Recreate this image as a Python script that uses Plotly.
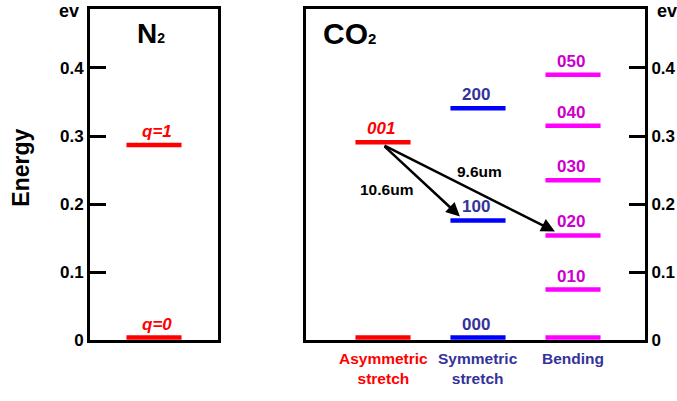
import plotly.graph_objects as go

# ---- data -------------------------------------------------------------
n2_labels = ["q=0", "q=1"]
n2_energy = [0.004, 0.287]

modes = ["Asymmetric<br>stretch", "Symmetric<br>stretch", "Bending"]

asym_labels = ["", "001"]
asym_energy = [0.004, 0.291]

sym_labels = ["000", "100", "200"]
sym_energy = [0.004, 0.176, 0.341]

bend_labels = ["", "010", "020", "030", "040", "050"]
bend_energy = [0.004, 0.0745, 0.154, 0.235, 0.315, 0.390]

# laser transitions: (upper level, lower level, wavelength)
transitions = [("001", "100", "10.6um"), ("001", "020", "9.6um")]

energy_ticks = [0, 0.1, 0.2, 0.3, 0.4]
energy_ticktext = ["0", "0.1", "0.2", "0.3", "0.4"]

# ---- styling ----------------------------------------------------------
W, H = 677, 401
FONT = "Liberation Sans, Arial, sans-serif"
RED, BLUE, MAG = "#ff0000", "#0000ff", "#ff00ff"
BLUE_TXT, MAG_TXT = "#333399", "#cc00cc"
HALF = 0.29          # half width of an energy-level bar (x units)
BAR_W = 4.5


def xp(px):
    return px / W


def yp(py):
    return 1 - py / H


fig = go.Figure()


def add_levels(xref, yref, col, energies, color):
    xs, ys = [], []
    for e in energies:
        xs += [col - HALF, col + HALF, None]
        ys += [e, e, None]
    fig.add_trace(go.Scatter(x=xs, y=ys, mode="lines", xaxis=xref, yaxis=yref,
                             line=dict(color=color, width=BAR_W),
                             hoverinfo="skip", showlegend=False))


def add_level_labels(xref, yref, col, labels, energies, color, italic=False, xshift=0):
    for lab, e in zip(labels, energies):
        if not lab:
            continue
        txt = f"<b>{lab}</b>"
        if italic:
            txt = f"<i>{txt}</i>"
        fig.add_annotation(x=col, y=e, xref=xref, yref=yref, text=txt,
                           showarrow=False, xanchor="center", yanchor="bottom",
                           yshift=2, xshift=xshift,
                           font=dict(family=FONT, size=17, color=color))


def paper_text(px, py, text, size, angle=0):
    fig.add_annotation(x=xp(px), y=yp(py), xref="paper", yref="paper", text=text,
                       showarrow=False, xanchor="center", yanchor="middle",
                       textangle=angle, font=dict(family=FONT, size=size, color="black"))


# N2 panel
add_levels("x", "y", 0, n2_energy, RED)
add_level_labels("x", "y", 0, n2_labels, n2_energy, RED, italic=True, xshift=3)

# CO2 panel
columns = [
    (0, asym_labels, asym_energy, RED, RED, True),
    (1, sym_labels, sym_energy, BLUE, BLUE_TXT, False),
    (2, bend_labels, bend_energy, MAG, MAG_TXT, False),
]
level_pos = {}
for col, labs, ens, c_bar, c_txt, ital in columns:
    add_levels("x2", "y2", col, ens, c_bar)
    add_level_labels("x2", "y2", col, labs, ens, c_txt, italic=ital, xshift=-2)
    for lab, e in zip(labs, ens):
        if lab:
            level_pos[lab] = (col, e)

# transition arrows
for up, low, _ in transitions:
    cu, eu = level_pos[up]
    cl, el = level_pos[low]
    fig.add_annotation(x=cl - 0.19, y=el + 0.006, ax=cu, ay=eu - 0.004,
                       xref="x2", yref="y2", axref="x2", ayref="y2",
                       showarrow=True, arrowhead=2, arrowsize=1.1, arrowwidth=2.5,
                       arrowcolor="black", standoff=0, startstandoff=0, text="")

wl_pos = [(0.04, 0.222), (1.02, 0.248)]
for (_, _, wl), (tx, ty) in zip(transitions, wl_pos):
    fig.add_annotation(x=tx, y=ty, xref="x2", yref="y2", text=f"<b>{wl}</b>",
                       showarrow=False, xanchor="center", yanchor="middle",
                       font=dict(family=FONT, size=15.5, color="black"))

# mode names under the CO2 panel
mode_colors = [RED, BLUE_TXT, BLUE_TXT]
for i, (m, c) in enumerate(zip(modes, mode_colors)):
    fig.add_annotation(x=i, y=yp(357), xref="x2", yref="paper", text=f"<b>{m}</b>",
                       showarrow=False, xanchor="center", yanchor="top", align="center",
                       font=dict(family=FONT, size=15.5, color=c))

# panel titles
paper_text(151, 34, "<b>N<span style='font-size:14px'>2</span></b>", 28)
paper_text(349, 34, "<b>CO<span style='font-size:15px'>2</span></b>", 30)

# unit labels and axis title
paper_text(69, 11, "<b>ev</b>", 18)
paper_text(667, 11, "<b>ev</b>", 18)
paper_text(21, 172, "<b>Energy</b>", 23, angle=-90)

# ---- axes -------------------------------------------------------------
box = dict(showline=True, mirror=True, linewidth=3, linecolor="black",
           showgrid=False, zeroline=False)
ydom = [yp(349), yp(9)]
yrange = [0, 0.487]
ytick = dict(tickmode="array", tickvals=energy_ticks,
             ticktext=[f"<b>{t}</b>" for t in energy_ticktext],
             ticks="inside", ticklen=16, tickwidth=3, tickcolor="black",
             tickfont=dict(family=FONT, size=17, color="black"))

fig.update_layout(
    width=W, height=H, margin=dict(l=0, r=0, t=0, b=0),
    paper_bgcolor="white", plot_bgcolor="white", showlegend=False,
    xaxis=dict(domain=[xp(90), xp(218)], range=[-0.674, 0.674],
               showticklabels=False, ticks="", **box),
    yaxis=dict(domain=ydom, range=yrange, anchor="x", **ytick, **box),
    xaxis2=dict(domain=[xp(306), xp(645)], range=[-0.8105, 2.758], anchor="y2",
                showticklabels=False, ticks="", **box),
    yaxis2=dict(domain=ydom, range=yrange, anchor="x2", side="right",
                **ytick, **box),
)

fig.write_html("out.html")
